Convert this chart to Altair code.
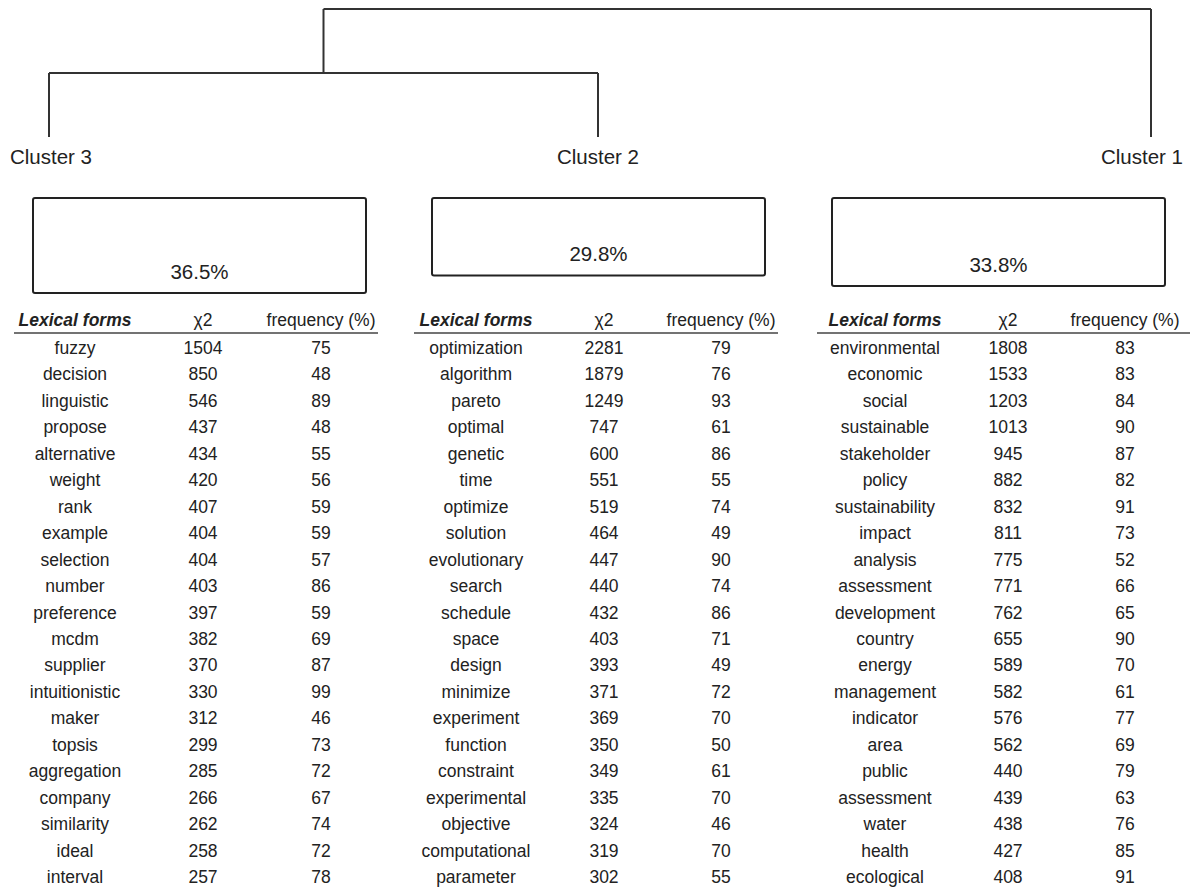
import altair as alt
import pandas as pd

# ---------------- data ----------------
clusters = ["Cluster 3", "Cluster 2", "Cluster 1"]
percents = [36.5, 29.8, 33.8]

header_words = "Lexical forms"
header_chi = "χ2"
header_freq = "frequency (%)"

words_c3 = ["fuzzy", "decision", "linguistic", "propose", "alternative", "weight", "rank",
            "example", "selection", "number", "preference", "mcdm", "supplier", "intuitionistic",
            "maker", "topsis", "aggregation", "company", "similarity", "ideal", "interval"]
chi_c3 = [1504, 850, 546, 437, 434, 420, 407, 404, 404, 403, 397, 382, 370, 330, 312, 299,
          285, 266, 262, 258, 257]
freq_c3 = [75, 48, 89, 48, 55, 56, 59, 59, 57, 86, 59, 69, 87, 99, 46, 73, 72, 67, 74, 72, 78]

words_c2 = ["optimization", "algorithm", "pareto", "optimal", "genetic", "time", "optimize",
            "solution", "evolutionary", "search", "schedule", "space", "design", "minimize",
            "experiment", "function", "constraint", "experimental", "objective",
            "computational", "parameter"]
chi_c2 = [2281, 1879, 1249, 747, 600, 551, 519, 464, 447, 440, 432, 403, 393, 371, 369, 350,
          349, 335, 324, 319, 302]
freq_c2 = [79, 76, 93, 61, 86, 55, 74, 49, 90, 74, 86, 71, 49, 72, 70, 50, 61, 70, 46, 70, 55]

words_c1 = ["environmental", "economic", "social", "sustainable", "stakeholder", "policy",
            "sustainability", "impact", "analysis", "assessment", "development", "country",
            "energy", "management", "indicator", "area", "public", "assessment", "water",
            "health", "ecological"]
chi_c1 = [1808, 1533, 1203, 1013, 945, 882, 832, 811, 775, 771, 762, 655, 589, 582, 576, 562,
          440, 439, 438, 427, 408]
freq_c1 = [83, 83, 84, 90, 87, 82, 91, 73, 52, 66, 65, 90, 70, 61, 77, 69, 79, 63, 76, 85, 91]

# ---------------- layout (page pixel coordinates) ----------------
W, H = 1184, 870
PAD = {"left": 0, "top": 4, "right": 0, "bottom": 8}
X_DOM = [8, 8 + W]
Y_DOM = [12, 12 + H]

leaf_x = [49, 598, 1151]
leaf_bottom = 137
merge_level_1 = 73   # cluster 3 + cluster 2
merge_level_root = 9
label_x = [51, 598, 1142]
label_y = 158

box_left = [33, 432, 832]
box_w = 333
box_top = 198
box_scale = 2.6  # px per percent

tab_words_x = [75, 476, 885]
tab_chi_x = [203, 604, 1008]
tab_freq_x = [321, 721, 1125]
tab_line = [(14, 378), (414, 778), (817, 1190)]
head_y = 321
line_y = 333
row_y0 = 349
row_dy = 26.45

FONT = "Liberation Sans, Arial, sans-serif"
FS_TAB = 17.5
FS_BIG = 20.5
TXT = "#222222"
LINE = "#333333"

xs = alt.Scale(domain=X_DOM, range=[0, W])
ys = alt.Scale(domain=Y_DOM, reverse=True)
X = lambda f: alt.X(f, type="quantitative", scale=xs, axis=None)
Y = lambda f: alt.Y(f, type="quantitative", scale=ys, axis=None)

# dendrogram segments
node_x = (leaf_x[0] + leaf_x[1]) / 2
segs = pd.DataFrame([
    dict(x=leaf_x[0], x2=leaf_x[0], y=leaf_bottom, y2=merge_level_1),
    dict(x=leaf_x[1], x2=leaf_x[1], y=leaf_bottom, y2=merge_level_1),
    dict(x=leaf_x[0], x2=leaf_x[1], y=merge_level_1, y2=merge_level_1),
    dict(x=node_x, x2=node_x, y=merge_level_1, y2=merge_level_root),
    dict(x=leaf_x[2], x2=leaf_x[2], y=leaf_bottom, y2=merge_level_root),
    dict(x=node_x, x2=leaf_x[2], y=merge_level_root, y2=merge_level_root),
])
dendro = alt.Chart(segs).mark_rule(color=LINE, strokeWidth=2).encode(
    x=X("x"), x2="x2", y=Y("y"), y2="y2")

labels_df = pd.DataFrame({"x": label_x, "y": [label_y] * 3, "t": clusters})
labels = alt.Chart(labels_df).mark_text(font=FONT, fontSize=FS_BIG, color=TXT, baseline="middle").encode(
    x=X("x"), y=Y("y"), text="t:N")

boxes_df = pd.DataFrame({
    "x": box_left, "x2": [b + box_w for b in box_left],
    "y": [box_top] * 3, "y2": [box_top + box_scale * p for p in percents],
    "cx": [b + box_w / 2 for b in box_left],
    "ty": [box_top + box_scale * p - 20 for p in percents],
    "t": [f"{p}%" for p in percents],
})
boxes = alt.Chart(boxes_df).mark_rect(fillOpacity=0, stroke="#222222", strokeWidth=2,
                                      cornerRadius=2).encode(
    x=X("x"), x2="x2", y=Y("y"), y2="y2")
pct = alt.Chart(boxes_df).mark_text(font=FONT, fontSize=FS_BIG, color=TXT, baseline="middle").encode(
    x=X("cx"), y=Y("ty"), text="t:N")

# table headers
hw = pd.DataFrame({"x": tab_words_x, "y": [head_y] * 3, "t": [header_words] * 3})
hc = pd.DataFrame({"x": tab_chi_x + tab_freq_x, "y": [head_y] * 6,
                   "t": [header_chi] * 3 + [header_freq] * 3})
head_w = alt.Chart(hw).mark_text(font=FONT, fontSize=FS_TAB, fontWeight="bold", fontStyle="italic",
                                 color=TXT, baseline="middle").encode(x=X("x"), y=Y("y"), text="t:N")
head_c = alt.Chart(hc).mark_text(font=FONT, fontSize=FS_TAB, color=TXT, baseline="middle").encode(
    x=X("x"), y=Y("y"), text="t:N")
hl = pd.DataFrame({"x": [a for a, b in tab_line], "x2": [b for a, b in tab_line], "y": [line_y] * 3})
head_line = alt.Chart(hl).mark_rule(color="#444444", strokeWidth=1.5).encode(
    x=X("x"), x2="x2", y=Y("y"))

# table body
rows = []
for k, (w, c, f) in enumerate([(words_c3, chi_c3, freq_c3), (words_c2, chi_c2, freq_c2),
                               (words_c1, chi_c1, freq_c1)]):
    for i in range(len(w)):
        yy = row_y0 + row_dy * i
        rows.append(dict(x=tab_words_x[k], y=yy, t=w[i]))
        rows.append(dict(x=tab_chi_x[k], y=yy, t=str(c[i])))
        rows.append(dict(x=tab_freq_x[k], y=yy, t=str(f[i])))
body = alt.Chart(pd.DataFrame(rows)).mark_text(font=FONT, fontSize=FS_TAB, color=TXT,
                                               baseline="middle").encode(
    x=X("x"), y=Y("y"), text="t:N")

chart = alt.layer(dendro, labels, boxes, pct, head_line, head_w, head_c, body).properties(
    width=W, height=H, padding=PAD, background="white",
    autosize=alt.AutoSizeParams(type="none"),
).configure_view(strokeWidth=0, stroke="transparent")

chart.save("out.html", embed_options={"renderer": "svg", "actions": False})
